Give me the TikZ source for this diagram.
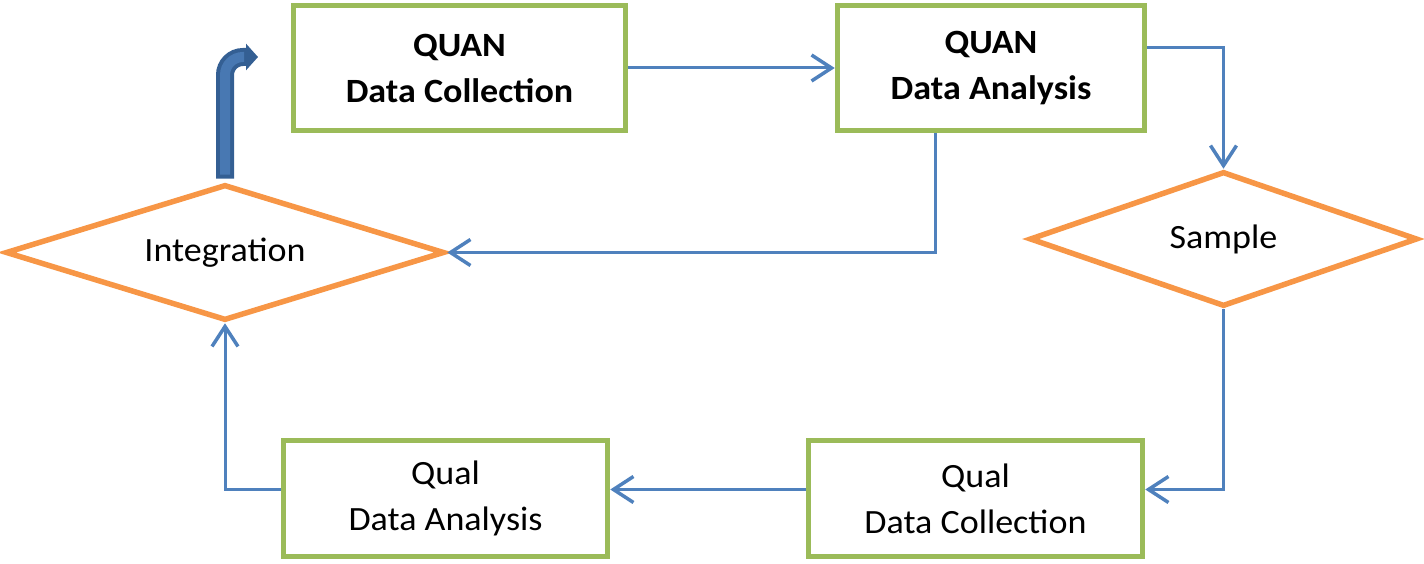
\documentclass[tikz,border=0pt]{standalone}
\usepackage{fontspec}
\setmainfont{Carlito}[FakeStretch=1.06]
\usetikzlibrary{shapes.geometric,arrows.meta,calc}
\definecolor{boxgreen}{HTML}{9BBB59}
\definecolor{diaorange}{HTML}{F79646}
\definecolor{linkblue}{HTML}{4F81BD}
\definecolor{bigdark}{HTML}{345F93}
\definecolor{biglight}{HTML}{4878B2}
\begin{document}
\begin{tikzpicture}[x=1pt,y=-1pt,
  txt/.style={font=\fontsize{34}{46}\selectfont},
  stagebox/.style={draw=boxgreen,line width=5.5pt,rectangle,align=center,inner sep=0pt,txt},
  decision/.style={draw=diaorange,line width=5.5pt,diamond,inner sep=0pt,txt},
  link/.style={draw=linkblue,line width=3pt,-{Straight Barb[length=20pt,width=26pt,line width=3.5pt]}}
]
\useasboundingbox (0,0) rectangle (1424,564);
\node[stagebox,minimum width=332pt,minimum height=125pt,font=\fontsize{34}{46}\selectfont\bfseries] (qndc) at (459.5,68) {QUAN\\Data Collection};
\node[stagebox,minimum width=307pt,minimum height=125pt,font=\fontsize{34}{46}\selectfont\bfseries] (qnda) at (991,68) {QUAN\\Data Analysis};
\node[stagebox,minimum width=324pt,minimum height=116pt] (qlda) at (445.5,498.5) {Qual\\Data Analysis};
\node[stagebox,minimum width=334pt,minimum height=116pt] (qldc) at (975.5,498.5) {Qual\\Data Collection};
\node[decision,shape aspect=3.2,minimum width=439pt,minimum height=136pt] (integ) at (225,252.5) {Integration};
\node[decision,shape aspect=2.85,minimum width=388pt,minimum height=135pt] (samp) at (1223.5,239) {Sample};

\draw[link] (qndc.east) -- (qnda.west);
\draw[link] ([yshift=20pt]qnda.east) -| (samp.north);
\draw[link] ([xshift=-56pt]qnda.south) |- (integ.east);
\draw[link] (samp.south) |- ([yshift=9pt]qldc.east);
\draw[link] ([yshift=9pt]qldc.west) -- ([yshift=9pt]qlda.east);
\draw[link] ([yshift=9pt]qlda.west) -| (integ.south);

\coordinate (bigend) at (258,57);
\draw[bigdark,line width=18pt,rounded corners=18pt,-{Triangle[length=12pt,width=26pt]}] ([yshift=3pt]integ.north) |- (bigend);
\draw[biglight,line width=10pt,rounded corners=18pt] ([yshift=7pt]integ.north) |- ($(bigend)+(-14,0)$);
\end{tikzpicture}
\end{document}
